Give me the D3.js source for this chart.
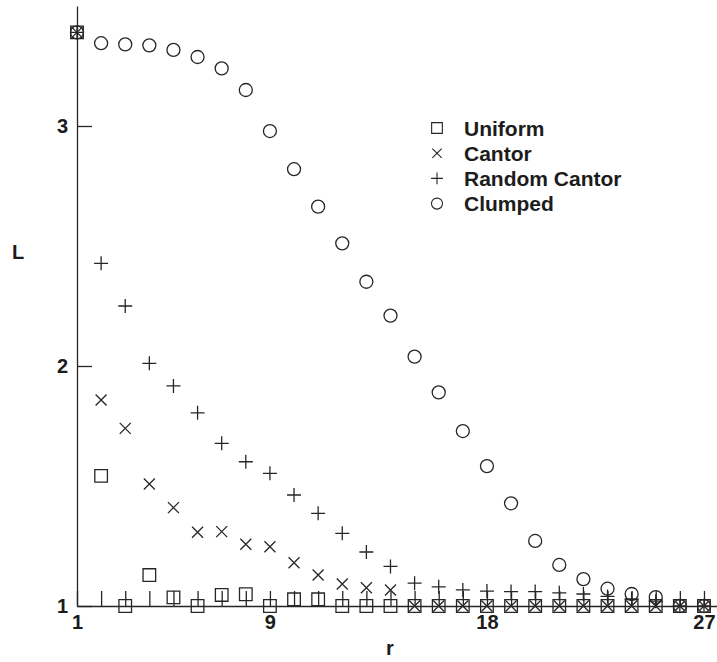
<!DOCTYPE html>
<html>
<head>
<meta charset="utf-8">
<script src="https://cdn.jsdelivr.net/npm/d3@7"></script>
<style>
    body { margin: 0; background: #fff; }
    text { font-family: "Liberation Sans", Arial, Helvetica, sans-serif; font-weight: bold; fill: #1c1c1c; }
</style>
</head>
<body>
<svg id="chart" width="717" height="662"></svg>
<script>
// r values on the x axis
let rValues = [1, 2, 3, 4, 5, 6, 7, 8, 9, 10, 11, 12, 13, 14, 15, 16, 17, 18, 19, 20, 21, 22, 23, 24, 25, 26, 27];

// L values, one per r
let uniform = [3.39, 1.542, 1.0, 1.129, 1.036, 1.0, 1.046, 1.049, 1.0, 1.028, 1.028, 1.0, 1.0, 1.0,
    1.0, 1.0, 1.0, 1.0, 1.0, 1.0, 1.0, 1.0, 1.0, 1.0, 1.0, 1.0, 1.0];
let cantor = [3.39, 1.858, 1.74, 1.508, 1.41, 1.307, 1.31, 1.257, 1.247, 1.18, 1.129, 1.092, 1.076, 1.067,
    1.0, 1.0, 1.0, 1.0, 1.0, 1.0, 1.0, 1.0, 1.0, 1.0, 1.0, 1.0, 1.0];
let randomCantor = [3.39, 2.428, 2.25, 2.011, 1.917, 1.805, 1.678, 1.601, 1.553, 1.4625, 1.386, 1.303, 1.225, 1.165,
    1.095, 1.08, 1.067, 1.062, 1.06, 1.06, 1.055, 1.05, 1.04, 1.03, 1.02, 1.0, 1.0];
let clumped = [3.39, 3.345, 3.34, 3.336, 3.317, 3.2875, 3.24, 3.15, 2.979, 2.82, 2.664, 2.511, 2.351, 2.21,
    2.039, 1.89, 1.729, 1.583, 1.428, 1.271, 1.171, 1.112, 1.072, 1.05, 1.037, 1.0, 1.0];

let seriesNames = ["Uniform", "Cantor", "Random Cantor", "Clumped"];
let seriesShapes = ["square", "times", "plus", "circle"];
let seriesValues = [uniform, cantor, randomCantor, clumped];

let xTickLabels = [1, 9, 18, 27];
let yTickValues = [1, 2, 3];

let svg = d3.select("#chart");
let ink = "#262626";

let x = d3.scaleLinear().domain([1, 27.54]).range([77, 717]);
let y = d3.scaleLinear().domain([1, 3.5]).range([606, 6]);

// symbol paths centred on 0,0
function shapePath(kind) {
    if (kind === "square") return "M-6.3,-6.3H6.3V6.3H-6.3Z";
    if (kind === "times") return "M-5.5,-5.5L5.5,5.5M-5.5,5.5L5.5,-5.5";
    if (kind === "plus") return "M-7,0H7M0,-7V7";
    return "M6.5,0A6.5,6.5 0 1,1 -6.5,0A6.5,6.5 0 1,1 6.5,0Z";
}

// x axis: small ticks pointing up at every r
let xAxis = d3.axisBottom(x)
    .tickValues(rValues)
    .tickSizeInner(-15)
    .tickSizeOuter(0)
    .tickPadding(9)
    .tickFormat(d => xTickLabels.includes(d) ? d : "");

let gx = svg.append("g")
    .attr("transform", `translate(0,${y(1)})`)
    .call(xAxis);

// y axis: ticks pointing right
let yAxis = d3.axisLeft(y)
    .tickValues(yTickValues)
    .tickSizeInner(-15)
    .tickSizeOuter(0)
    .tickPadding(9)
    .tickFormat(d3.format("d"));

let gy = svg.append("g")
    .attr("transform", `translate(${x(1)},0)`)
    .call(yAxis);

[gx, gy].forEach(g => {
    g.selectAll("path, line").attr("stroke", ink).attr("stroke-width", 1.3);
    g.selectAll("text")
        .style("font-size", "20px")
        .style("font-family", "'Liberation Sans', Arial, sans-serif")
        .style("font-weight", "bold")
        .attr("fill", "#1c1c1c");
});

// axis titles
svg.append("text")
    .attr("x", 18)
    .attr("y", 259)
    .attr("text-anchor", "middle")
    .style("font-size", "20px")
    .text("L");

svg.append("text")
    .attr("x", 390)
    .attr("y", 655)
    .attr("text-anchor", "middle")
    .style("font-size", "20px")
    .text("r");

// draw the points for each series
seriesValues.forEach((vals, i) => {
    svg.append("g")
        .selectAll("path")
        .data(vals.map((v, j) => ({ r: rValues[j], L: v })))
        .enter().append("path")
        .attr("transform", d => `translate(${x(d.r)},${y(d.L)})`)
        .attr("d", shapePath(seriesShapes[i]))
        .attr("fill", "none")
        .attr("stroke", ink)
        .attr("stroke-width", 1.3);
});

// legend
let legend = svg.append("g")
    .selectAll("g")
    .data(seriesNames)
    .enter().append("g")
    .attr("transform", (d, i) => `translate(437,${128 + i * 25.2})`);

legend.append("path")
    .attr("d", (d, i) => shapePath(seriesShapes[i]))
    .attr("transform", "scale(0.85)")
    .attr("fill", "none")
    .attr("stroke", ink)
    .attr("stroke-width", 1.3);

legend.append("text")
    .attr("x", 27)
    .attr("y", 7.5)
    .style("font-size", "21px")
    .text(d => d);
</script>
</body>
</html>
